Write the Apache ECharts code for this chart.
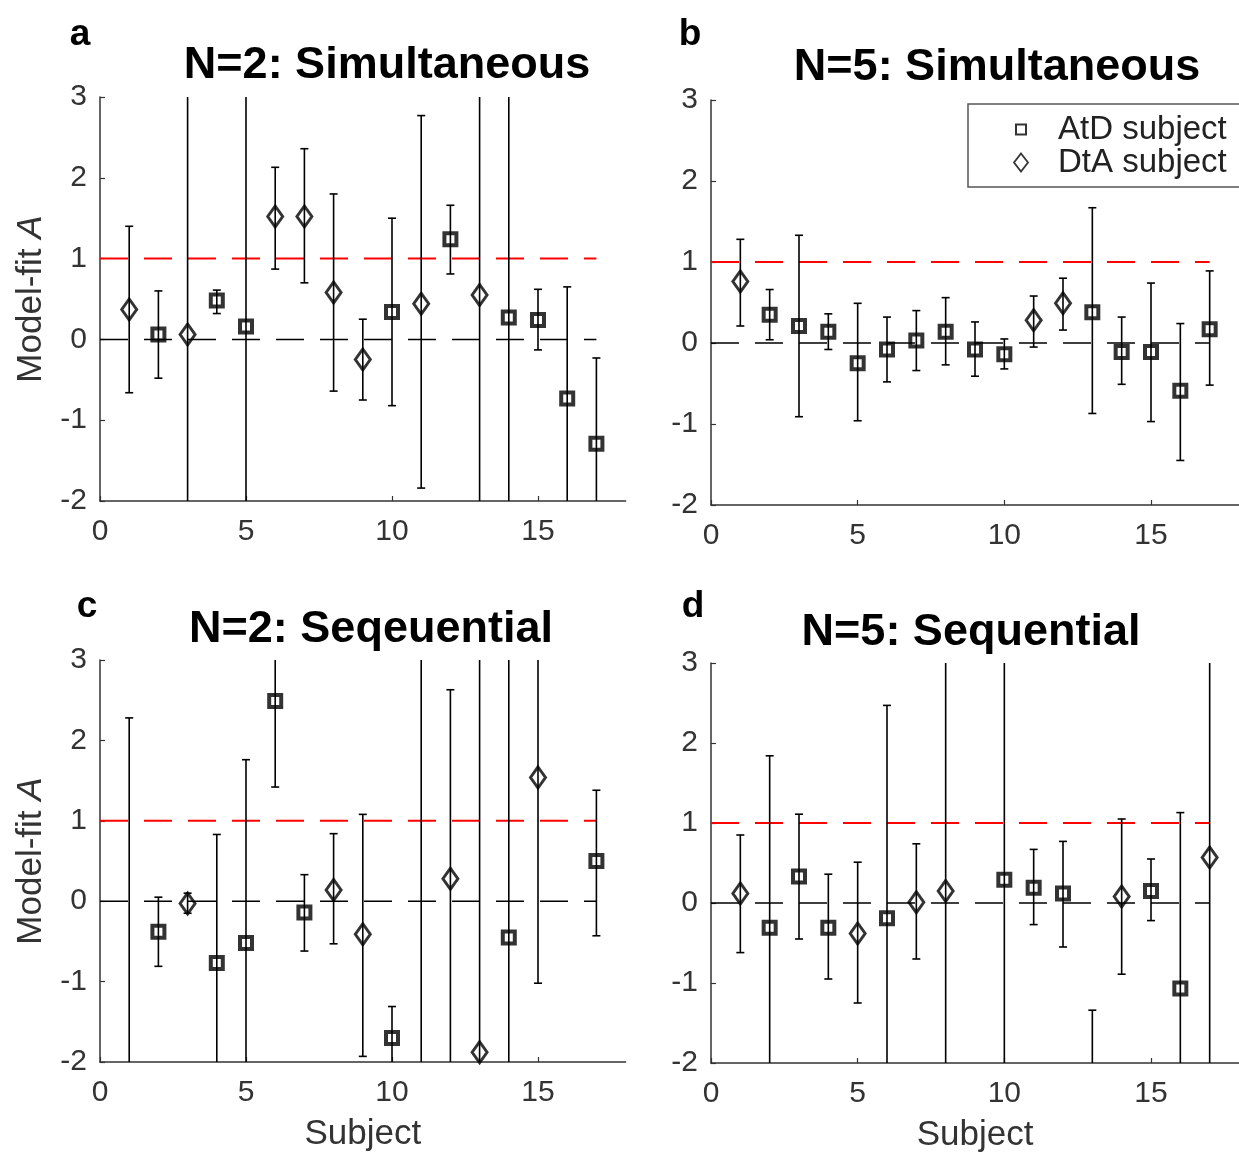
<!DOCTYPE html>
<html>
<head>
<meta charset="utf-8">
<script src="https://cdn.jsdelivr.net/npm/echarts@6/dist/echarts.min.js"></script>
<style>html,body{margin:0;padding:0;background:#fff;}#c{width:1239px;height:1154px;}</style>
</head>
<body>
<div id="c"></div>
<script>
// ---------- data ----------
const subjects = [1,2,3,4,5,6,7,8,9,10,11,12,13,14,15,16,17];
// marker type: S = AtD subject (square), D = DtA subject (diamond)
// panel a: N=2 Simultaneous
const aType = ['D','S','D','S','S','D','D','D','D','S','D','S','D','S','S','S','S'];
const aVal  = [0.37,0.06,0.06,0.48,0.16,1.52,1.52,0.58,-0.25,0.34,0.44,1.24,0.55,0.27,0.24,-0.73,-1.29];
const aLow  = [-0.66,-0.48,-3.5,0.32,-3.5,0.87,0.70,-0.64,-0.75,-0.82,-1.84,0.81,-3.5,-3.5,-0.13,-3.5,-3.5];
const aHigh = [1.40,0.60,4.5,0.61,4.5,2.13,2.36,1.80,0.25,1.50,2.77,1.66,4.5,4.5,0.62,0.65,-0.23];
// panel b: N=5 Simultaneous
const bType = ['D','S','S','S','S','S','S','S','S','S','D','D','S','S','S','S','S'];
const bVal  = [0.76,0.35,0.21,0.14,-0.25,-0.08,0.03,0.14,-0.08,-0.14,0.28,0.49,0.38,-0.11,-0.11,-0.59,0.17];
const bLow  = [0.21,0.04,-0.91,-0.08,-0.96,-0.48,-0.34,-0.27,-0.41,-0.32,-0.05,0.16,-0.87,-0.51,-0.97,-1.45,-0.52];
const bHigh = [1.28,0.66,1.33,0.36,0.49,0.32,0.40,0.56,0.26,0.05,0.58,0.80,1.67,0.32,0.74,0.24,0.89];
// panel c: N=2 Sequential
const cType = ['S','S','D','S','S','S','S','D','D','S','S','D','D','S','D','S','S'];
const cVal  = [null,-0.38,-0.03,-0.77,-0.52,2.49,-0.14,0.14,-0.41,-1.70,null,0.28,-1.88,-0.45,1.54,null,0.50];
const cLow  = [-3.5,-0.81,-0.15,-3.5,-3.5,1.42,-0.62,-0.53,-1.93,-3.5,-3.5,-3.5,-3.5,-3.5,-1.02,null,-0.43];
const cHigh = [2.28,0.05,0.10,0.83,1.76,4.5,0.33,0.84,1.08,-1.31,4.5,2.63,4.5,4.5,4.5,null,1.38];
// panel d: N=5 Sequential
const dType = ['D','S','S','S','D','S','D','D','S','S','S','S','S','D','S','S','D'];
const dVal  = [0.12,-0.31,0.33,-0.31,-0.38,-0.19,0.01,0.15,null,0.29,0.19,0.12,null,0.08,0.15,-1.07,0.57];
const dLow  = [-0.62,-3.5,-0.45,-0.95,-1.25,-3.5,-0.70,-3.5,null,-3.5,-0.27,-0.55,-3.5,-0.89,-0.22,-3.5,-3.5];
const dHigh = [0.85,1.84,1.11,0.36,0.51,2.47,0.74,4.5,null,4.5,0.67,0.77,-1.34,1.05,0.55,1.13,4.5];

const xTickValues = [0,5,10,15];
const refLineX = [0, 17];
const refLevels = [1, 0];
const panelTitles = ['N=2: Simultaneous','N=5: Simultaneous','N=2: Seqeuential','N=5: Sequential'];
const panelLetters = ['a','b','c','d'];
const legendNames = ['AtD subject','DtA subject'];

// ---------- layout ----------
const FONT = "'Liberation Sans', Arial, Helvetica, sans-serif";
const panels = [
  {type:aType, val:aVal, low:aLow, high:aHigh, grid:{left:100, top:97, width:525.6, height:404}},
  {type:bType, val:bVal, low:bLow, high:bHigh, grid:{left:711, top:100, width:529, height:405}},
  {type:cType, val:cVal, low:cLow, high:cHigh, grid:{left:100, top:660, width:525.6, height:402}},
  {type:dType, val:dVal, low:dLow, high:dHigh, grid:{left:711, top:663, width:529, height:403}}
];
const titlePos = [[387,43],[997,45],[371,607],[971,610]];
const letterPos = [[80,16],[690,16],[87,588],[693,588]];

function errRender(params, api) {
  const x = api.value(0), lo = api.value(1), hi = api.value(2);
  const p1 = api.coord([x, lo]), p2 = api.coord([x, hi]);
  const cap = 4;
  const st = {stroke:'#000', lineWidth:1.6};
  return {type:'group', children:[
    {type:'line', shape:{x1:p1[0], y1:p1[1], x2:p2[0], y2:p2[1]}, style:st},
    {type:'line', shape:{x1:p1[0]-cap, y1:p1[1], x2:p1[0]+cap, y2:p1[1]}, style:st},
    {type:'line', shape:{x1:p2[0]-cap, y1:p2[1], x2:p2[0]+cap, y2:p2[1]}, style:st}
  ]};
}

const grids = [], xAxes = [], yAxes = [], series = [], titles = [];
const axisColor = '#333';
panels.forEach((p, k) => {
  grids.push(p.grid);
  xAxes.push({
    type:'value', gridIndex:k, min:0, max:18, interval:5,
    axisLine:{show:true, onZero:false, lineStyle:{color:axisColor, width:1.5}},
    axisTick:{show:true, inside:true, length:5, customValues:xTickValues, lineStyle:{color:axisColor, width:1.2}},
    axisLabel:{show:true, customValues:xTickValues, margin:16, fontSize:30, color:axisColor, fontFamily:FONT},
    splitLine:{show:false},
    name: k >= 2 ? 'Subject' : '', nameLocation:'middle', nameGap:55,
    nameTextStyle:{fontSize:35, color:axisColor, fontFamily:FONT}
  });
  yAxes.push({
    type:'value', gridIndex:k, min:-2, max:3, interval:1,
    axisLine:{show:true, onZero:false, lineStyle:{color:axisColor, width:1.5}},
    axisTick:{show:true, inside:true, length:5, lineStyle:{color:axisColor, width:1.2}},
    axisLabel:{show:true, margin:13, fontSize:30, color:axisColor, fontFamily:FONT},
    splitLine:{show:false},
    name: (k % 2 === 0) ? '{n|Model-fit }{i|A}' : '', nameLocation:'middle', nameGap:51,
    nameTextStyle:{fontSize:35, color:axisColor, fontFamily:FONT,
      rich:{n:{fontSize:35, color:axisColor, fontFamily:FONT}, i:{fontSize:35, color:axisColor, fontFamily:FONT, fontStyle:'italic'}}}
  });
  // reference dashed lines
  const refColors = ['#ff0000', '#000'];
  const refWidths = [2, 1.5];
  refLevels.forEach((lv, j) => {
    series.push({
      type:'line', xAxisIndex:k, yAxisIndex:k, silent:true, symbol:'none', z:1,
      data: refLineX.map(x => [x, lv]),
      lineStyle:{color:refColors[j], width:refWidths[j], type:[28,16]}
    });
  });
  // error bars
  const errData = [];
  subjects.forEach((s, i) => { if (p.low[i] !== null && p.high[i] !== null) errData.push([s, p.low[i], p.high[i]]); });
  series.push({
    type:'custom', xAxisIndex:k, yAxisIndex:k, renderItem:errRender, clip:true, silent:true, z:2,
    encode:{x:0, y:[1,2]}, data:errData
  });
  // markers
  const sq = [], dm = [];
  subjects.forEach((s, i) => {
    if (p.val[i] === null) return;
    (p.type[i] === 'S' ? sq : dm).push([s, p.val[i]]);
  });
  series.push({
    name:legendNames[0], type:'scatter', xAxisIndex:k, yAxisIndex:k, z:3, clip:true,
    symbol:'rect', symbolSize:12, data:sq,
    itemStyle:{color:'rgba(0,0,0,0)', borderColor:'#000', borderWidth:4}
  });
  series.push({
    name:legendNames[1], type:'scatter', xAxisIndex:k, yAxisIndex:k, z:3, clip:true,
    symbol:'diamond', symbolSize:[15,21], data:dm,
    itemStyle:{color:'rgba(0,0,0,0)', borderColor:'#000', borderWidth:3}
  });
  titles.push({text:panelTitles[k], left:titlePos[k][0], top:titlePos[k][1], textAlign:'center', padding:0,
    textStyle:{fontSize:45, fontWeight:'bold', color:'#000', fontFamily:FONT}});
  titles.push({text:panelLetters[k], left:letterPos[k][0], top:letterPos[k][1], textAlign:'center', padding:0,
    textStyle:{fontSize:37, fontWeight:'bold', color:'#000', fontFamily:FONT}});
});

const chart = echarts.init(document.getElementById('c'), null, {renderer:'canvas'});
chart.setOption({
  animation:false,
  backgroundColor:'#fff',
  title:titles,
  grid:grids, xAxis:xAxes, yAxis:yAxes,
  legend:{
    left:968, top:104, orient:'vertical', selectedMode:false,
    padding:[9,40,8,45], itemGap:0, itemWidth:14, itemHeight:18,
    borderColor:'#555', borderWidth:1.5, backgroundColor:'#fff',
    data:[
      {name:legendNames[0], icon:'path://M0 0M14 18M2 4H12V14H2Z', itemStyle:{borderWidth:2}},
      {name:legendNames[1], icon:'path://M7 0L14 9L7 18L0 9Z'}
    ],
    formatter: name => '{g|}{t|' + name + '}',
    itemStyle:{color:'rgba(0,0,0,0)', borderColor:'#000', borderWidth:1.8},
    textStyle:{fontSize:33, lineHeight:32, color:'#222', fontFamily:FONT,
      rich:{g:{width:25}, t:{fontSize:33, lineHeight:32, color:'#222', fontFamily:FONT}}}
  },
  series:series
});
</script>
</body>
</html>
